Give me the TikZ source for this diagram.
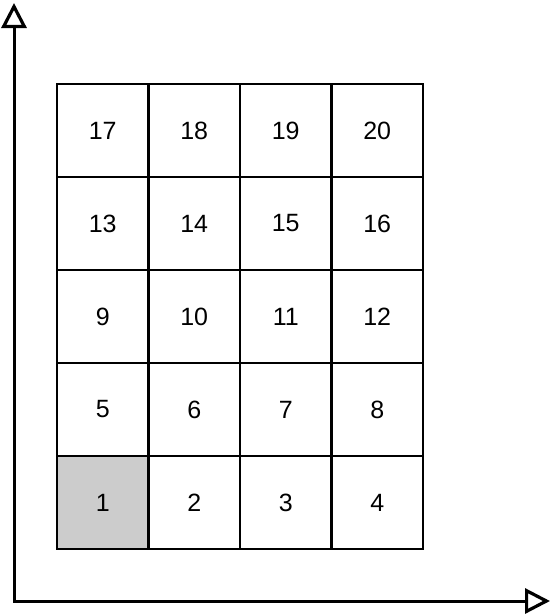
\documentclass[tikz,border=0pt]{standalone}
\usepackage{fontspec}
\setmainfont{Liberation Sans}
\usetikzlibrary{arrows.meta}
\begin{document}
\begin{tikzpicture}[x=1pt,y=-1pt,
  cellbox/.style={draw, line width=2.6pt, minimum width=91.5pt, minimum height=93pt,
    inner sep=0pt, font=\fontsize{25}{28}\selectfont},
  shaded/.style={fill=black!20},
  axisline/.style={line width=3pt, {Triangle[open,length=25pt,width=25pt,line width=3.2pt]}-{Triangle[open,length=25pt,width=25pt,line width=3.2pt]}}
]
\useasboundingbox (0,0) rectangle (551,614);
\foreach \r in {0,...,4}{
  \foreach \c in {1,...,4}{
    \pgfmathtruncatemacro{\n}{(4-\r)*4+\c}
    \node[cellbox] (cell\n) at ({57+91.5*(\c-1)+45.75},{84+93*\r+46.5}) {\n};
  }
}
\node[cellbox, shaded] at (cell1) {1};
\coordinate (origin) at (14,601);
\coordinate (ytip) at (14,3);
\coordinate (xtip) at (550,601);
\draw[axisline] (ytip) -- (origin) -- (xtip);
\end{tikzpicture}
\end{document}
